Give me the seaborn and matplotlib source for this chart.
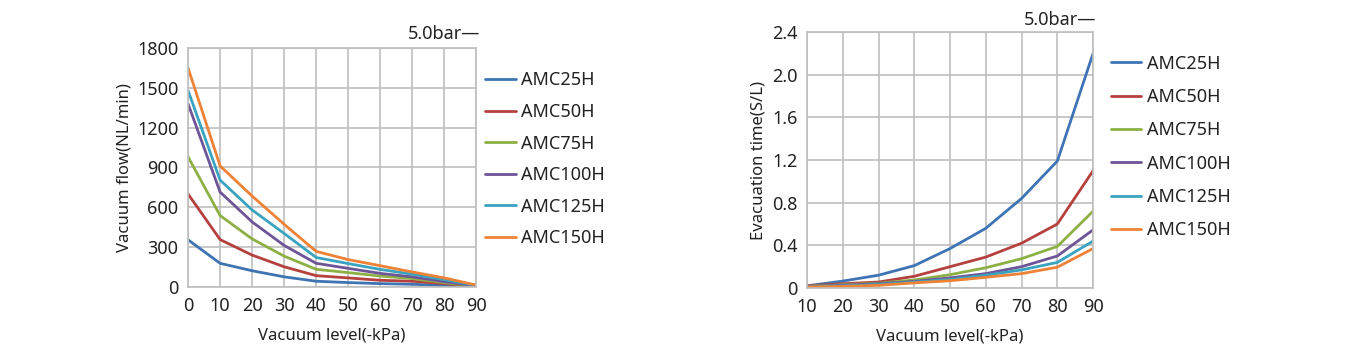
import pandas as pd
import seaborn as sns
import matplotlib.pyplot as plt

models = ["AMC25H", "AMC50H", "AMC75H", "AMC100H", "AMC125H", "AMC150H"]
colors = ["#3E74B3", "#B5413F", "#8DB045", "#6E5597", "#3AA3BF", "#EE8236"]

flow_x = [0, 10, 20, 30, 40, 50, 60, 70, 80, 90]
flow_25 = [355, 178, 122, 76, 43, 33, 25, 20, 12, 3]
flow_50 = [700, 357, 240, 152, 85, 68, 50, 43, 25, 5]
flow_75 = [980, 538, 362, 232, 133, 108, 82, 63, 32, 6]
flow_100 = [1380, 715, 490, 313, 178, 140, 102, 76, 40, 8]
flow_125 = [1480, 805, 580, 403, 222, 176, 132, 96, 55, 10]
flow_150 = [1650, 912, 685, 472, 268, 206, 160, 113, 68, 14]

evac_x = [10, 20, 30, 40, 50, 60, 70, 80, 90]
evac_25 = [0.02, 0.065, 0.12, 0.21, 0.37, 0.56, 0.84, 1.19, 2.2]
evac_50 = [0.02, 0.04, 0.056, 0.11, 0.2, 0.29, 0.42, 0.6, 1.1]
evac_75 = [0.015, 0.03, 0.045, 0.075, 0.125, 0.19, 0.275, 0.39, 0.72]
evac_100 = [0.015, 0.025, 0.04, 0.062, 0.095, 0.135, 0.2, 0.3, 0.545]
evac_125 = [0.012, 0.02, 0.033, 0.055, 0.08, 0.12, 0.17, 0.24, 0.44]
evac_150 = [0.01, 0.015, 0.025, 0.048, 0.068, 0.1, 0.135, 0.195, 0.37]

flow_rows = []
for m, vals in zip(models, [flow_25, flow_50, flow_75, flow_100, flow_125, flow_150]):
    for x, v in zip(flow_x, vals):
        flow_rows.append({"level": x, "value": v, "model": m})
df_flow = pd.DataFrame(flow_rows)

evac_rows = []
for m, vals in zip(models, [evac_25, evac_50, evac_75, evac_100, evac_125, evac_150]):
    for x, v in zip(evac_x, vals):
        evac_rows.append({"level": x, "value": v, "model": m})
df_evac = pd.DataFrame(evac_rows)

sns.set_style("white")
plt.rcParams["font.family"] = ["Noto Sans", "DejaVu Sans"]
text_c = "#222222"
grid_c = "#BFBFBF"

fig = plt.figure(figsize=(13.53, 3.56), dpi=100)
ax1 = fig.add_axes([0.139, 0.194, 0.213, 0.671])
ax2 = fig.add_axes([0.5965, 0.191, 0.2114, 0.719])

sns.lineplot(data=df_flow, x="level", y="value", hue="model", palette=colors,
             linewidth=2.0, ax=ax1, legend=True)
sns.lineplot(data=df_evac, x="level", y="value", hue="model", palette=colors,
             linewidth=2.0, ax=ax2, legend=True)

ax1.set_xlim(0, 90)
ax1.set_ylim(0, 1800)
ax1.set_xticks(flow_x)
ax1.set_yticks([0, 300, 600, 900, 1200, 1500, 1800])
ax1.set_xlabel("Vacuum level(-kPa)", fontsize=12, color=text_c, labelpad=9)
ax1.set_ylabel("Vacuum flow(NL/min)", fontsize=12, color=text_c, labelpad=3)

ax2.set_xlim(10, 90)
ax2.set_ylim(0, 2.4)
ax2.set_xticks(evac_x)
ax2.set_yticks([0, 0.4, 0.8, 1.2, 1.6, 2.0, 2.4])
ax2.set_yticklabels(["0", "0.4", "0.8", "1.2", "1.6", "2.0", "2.4"])
ax2.set_xlabel("Vacuum level(-kPa)", fontsize=12, color=text_c, labelpad=9)
ax2.set_ylabel("Evacuation time(S/L)", fontsize=12, color=text_c, labelpad=4)

for ax in (ax1, ax2):
    ax.grid(True, color=grid_c, linewidth=1.2)
    ax.set_axisbelow(True)
    for s in ax.spines.values():
        s.set_color(grid_c)
        s.set_linewidth(1.2)
    ax.tick_params(length=0, labelsize=13, colors=text_c, pad=7)

leg1 = ax1.legend(loc="upper left", bbox_to_anchor=(0.975, 0.97), frameon=False,
                  fontsize=13, handlelength=1.7, handletextpad=0.3, labelspacing=0.75)
leg2 = ax2.legend(loc="upper left", bbox_to_anchor=(1.005, 0.975), frameon=False,
                  fontsize=13, handlelength=1.7, handletextpad=0.3, labelspacing=0.85)
for leg in (leg1, leg2):
    for t in leg.get_texts():
        t.set_color(text_c)
    for ln in leg.get_lines():
        ln.set_linewidth(2.0)

ax1.text(1.015, 1.02, "5.0bar\u2014", transform=ax1.transAxes, ha="right", va="bottom",
         fontsize=13, color=text_c)
ax2.text(1.012, 1.01, "5.0bar\u2014", transform=ax2.transAxes, ha="right", va="bottom",
         fontsize=13, color=text_c)

fig.savefig("out.png", dpi=100)
